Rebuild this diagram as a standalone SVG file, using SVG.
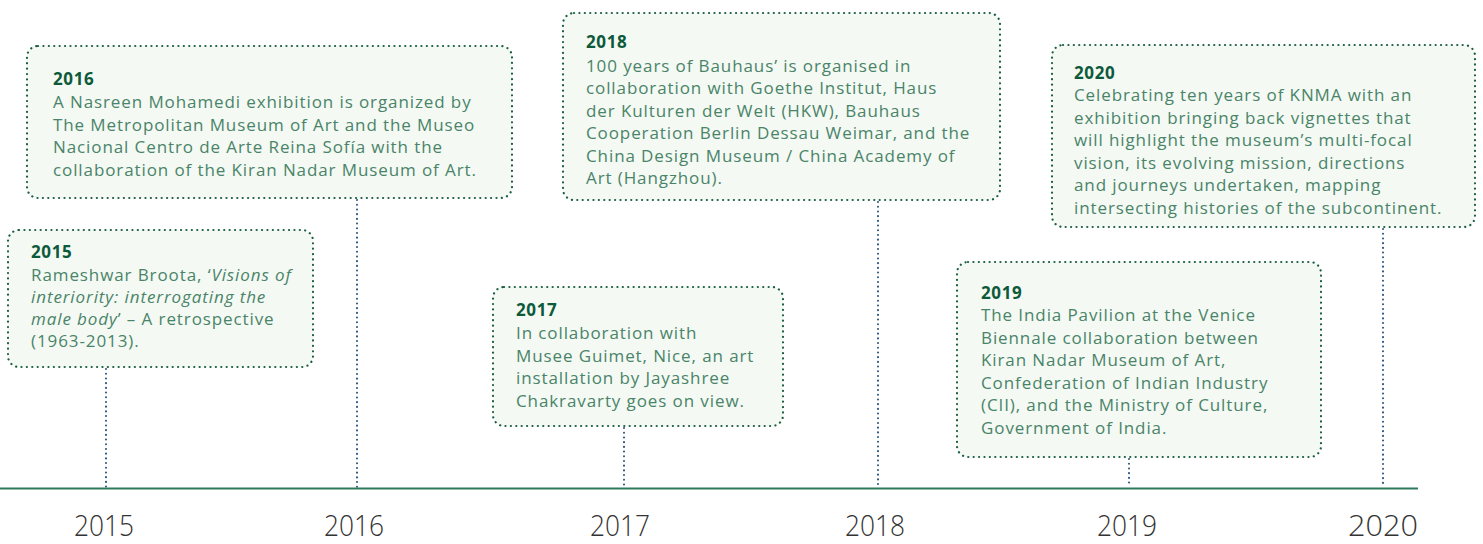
<svg xmlns="http://www.w3.org/2000/svg" width="1483" height="544" viewBox="0 0 1483 544">
<style>
.box{fill:#f4f9f4;stroke:#1b5e43;stroke-width:2.2;stroke-dasharray:0.1 5.3;stroke-linecap:round}
.conn{stroke:#24507d;stroke-width:2;stroke-dasharray:0.1 4.6;stroke-linecap:round;fill:none}
.hd{font-family:"Open Sans","Liberation Sans",sans-serif;font-weight:700;font-size:17px;letter-spacing:0.6px;fill:#0d5a3b}
.bd{font-family:"Open Sans","Liberation Sans",sans-serif;font-size:17px;letter-spacing:0.9px;fill:#4a8468}
.yr{font-family:"Open Sans","Liberation Sans",sans-serif;font-weight:300;font-size:29px;fill:#333333;text-anchor:middle}
.it{font-style:italic}
</style>
<rect width="1483" height="544" fill="#ffffff"/>
<g id="connectors">
<line class="conn" x1="106" y1="369" x2="106" y2="487"/>
<line class="conn" x1="357" y1="200" x2="357" y2="487"/>
<line class="conn" x1="624" y1="428" x2="624" y2="487"/>
<line class="conn" x1="878" y1="202" x2="878" y2="487"/>
<line class="conn" x1="1129" y1="459" x2="1129" y2="487"/>
<line class="conn" x1="1383" y1="229" x2="1383" y2="487"/>
</g>
<g id="timeline">
<line x1="0" y1="488.5" x2="1418" y2="488.5" stroke="#2e7a5c" stroke-width="2"/>
<text class="yr" x="104" y="536" textLength="60" lengthAdjust="spacingAndGlyphs">2015</text>
<text class="yr" x="354" y="536" textLength="60" lengthAdjust="spacingAndGlyphs">2016</text>
<text class="yr" x="620" y="536" textLength="60" lengthAdjust="spacingAndGlyphs">2017</text>
<text class="yr" x="875" y="536" textLength="60" lengthAdjust="spacingAndGlyphs">2018</text>
<text class="yr" x="1127" y="536" textLength="60" lengthAdjust="spacingAndGlyphs">2019</text>
<text class="yr" x="1383" y="536" textLength="70" lengthAdjust="spacingAndGlyphs">2020</text>
</g>
<g id="node-2016">
<rect class="box" x="27" y="46" width="485" height="152" rx="11"/>
<text class="hd" x="53" y="85">2016</text>
<text class="bd" x="53" y="108">A Nasreen Mohamedi exhibition is organized by</text>
<text class="bd" x="53" y="130.5">The Metropolitan Museum of Art and the Museo</text>
<text class="bd" x="53" y="153">Nacional Centro de Arte Reina Sofía with the</text>
<text class="bd" x="53" y="175.5">collaboration of the Kiran Nadar Museum of Art.</text>
</g>
<g id="node-2015">
<rect class="box" x="8" y="230" width="305" height="137" rx="11"/>
<text class="hd" x="31" y="258">2015</text>
<text class="bd" x="31" y="281">Rameshwar Broota, ‘<tspan class="it">Visions of</tspan></text>
<text class="bd it" x="31" y="303">interiority: interrogating the</text>
<text class="bd" x="31" y="325"><tspan class="it">male body</tspan>’ – A retrospective</text>
<text class="bd" x="31" y="347">(1963-2013).</text>
</g>
<g id="node-2017">
<rect class="box" x="493" y="287" width="290" height="139" rx="11"/>
<text class="hd" x="516" y="316">2017</text>
<text class="bd" x="516" y="339">In collaboration with</text>
<text class="bd" x="516" y="361.5">Musee Guimet, Nice, an art</text>
<text class="bd" x="516" y="384">installation by Jayashree</text>
<text class="bd" x="516" y="406.5">Chakravarty goes on view.</text>
</g>
<g id="node-2018">
<rect class="box" x="563" y="13" width="437" height="187" rx="11"/>
<text class="hd" x="586" y="48">2018</text>
<text class="bd" x="586" y="71.5">100 years of Bauhaus’ is organised in</text>
<text class="bd" x="586" y="94">collaboration with Goethe Institut, Haus</text>
<text class="bd" x="586" y="116.5">der Kulturen der Welt (HKW), Bauhaus</text>
<text class="bd" x="586" y="139">Cooperation Berlin Dessau Weimar, and the</text>
<text class="bd" x="586" y="161.5">China Design Museum / China Academy of</text>
<text class="bd" x="586" y="184">Art (Hangzhou).</text>
</g>
<g id="node-2019">
<rect class="box" x="957" y="262" width="364" height="195" rx="11"/>
<text class="hd" x="981" y="299">2019</text>
<text class="bd" x="981" y="321">The India Pavilion at the Venice</text>
<text class="bd" x="981" y="343.5">Biennale collaboration between</text>
<text class="bd" x="981" y="366">Kiran Nadar Museum of Art,</text>
<text class="bd" x="981" y="388.5">Confederation of Indian Industry</text>
<text class="bd" x="981" y="411">(CII), and the Ministry of Culture,</text>
<text class="bd" x="981" y="433.5">Government of India.</text>
</g>
<g id="node-2020">
<rect class="box" x="1052" y="45" width="423" height="182" rx="11"/>
<text class="hd" x="1074" y="79">2020</text>
<text class="bd" x="1074" y="101">Celebrating ten years of KNMA with an</text>
<text class="bd" x="1074" y="123.5">exhibition bringing back vignettes that</text>
<text class="bd" x="1074" y="146">will highlight the museum’s multi-focal</text>
<text class="bd" x="1074" y="168.5">vision, its evolving mission, directions</text>
<text class="bd" x="1074" y="191">and journeys undertaken, mapping</text>
<text class="bd" x="1074" y="213.5">intersecting histories of the subcontinent.</text>
</g>
</svg>
